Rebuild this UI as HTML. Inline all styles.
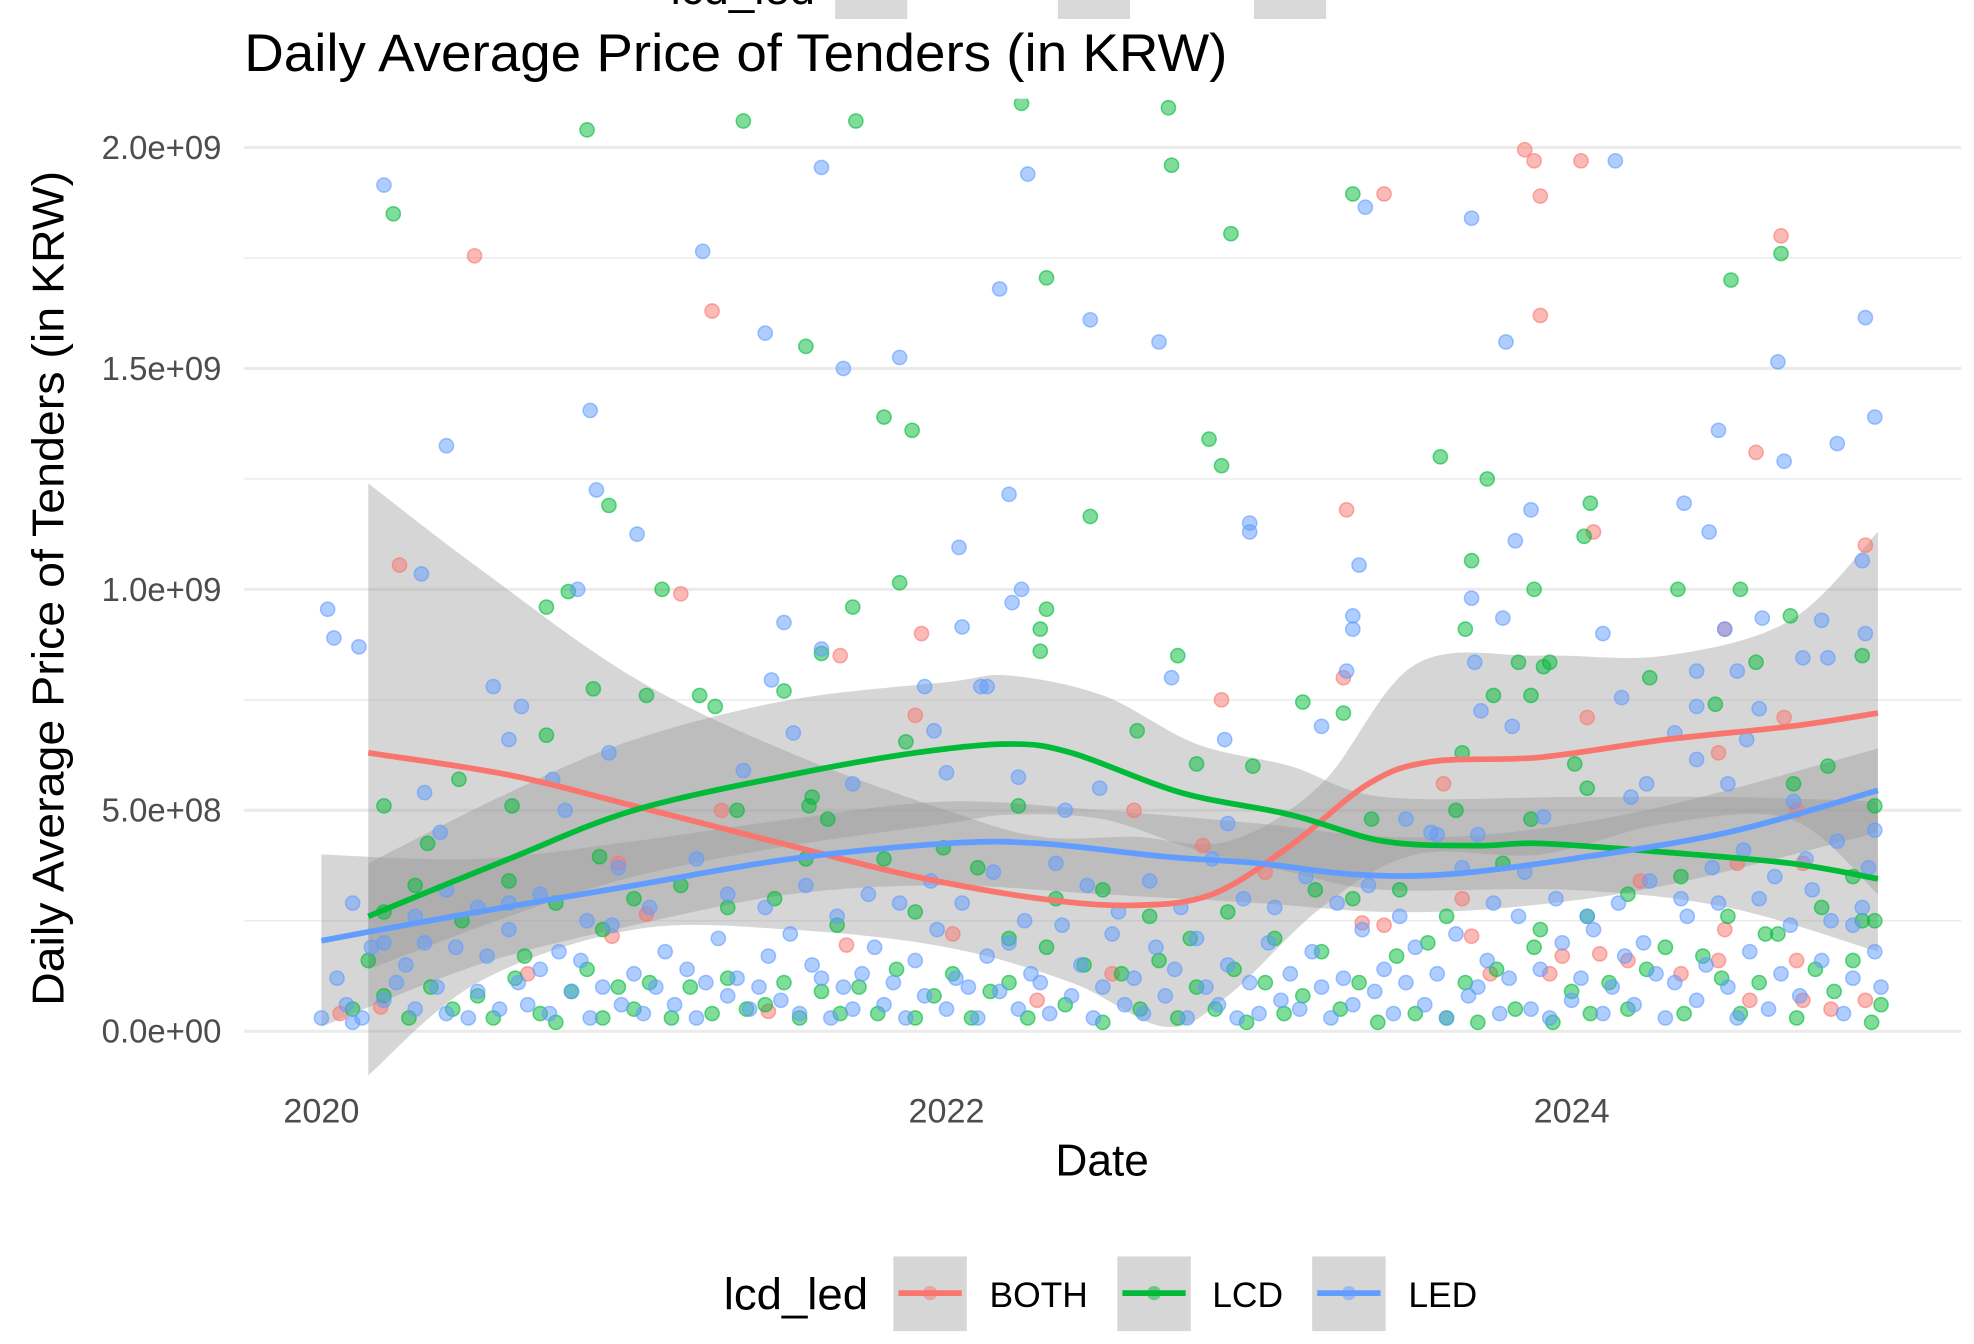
<!DOCTYPE html>
<html><head><meta charset="utf-8"><style>
html,body{margin:0;padding:0;background:#fff;}
svg{display:block;font-family:"Liberation Sans",Arial,sans-serif;}
</style></head><body>
<svg id="chart" width="1974" height="1344" viewBox="0 0 1560 1062.2" preserveAspectRatio="none" xmlns="http://www.w3.org/2000/svg">
<defs><clipPath id="panel"><rect x="193" y="78" width="1357" height="790"/></clipPath></defs>
<g>
<text x="530" y="3" font-size="36" fill="#000">lcd_led</text>
<rect x="660" y="0" width="57" height="15" fill="#d9d9d9"/>
<rect x="836" y="0" width="57" height="15" fill="#d9d9d9"/>
<rect x="991" y="0" width="57" height="15" fill="#d9d9d9"/>
</g>
<text x="193" y="56" font-size="42" fill="#000" textLength="777" lengthAdjust="spacingAndGlyphs">Daily Average Price of Tenders (in KRW)</text>
<g id="grid"></g>
<g id="ribbons" clip-path="url(#panel)"></g>
<g id="points" clip-path="url(#panel)"></g>
<g id="lines"></g>
<g id="axes"></g>
<text x="871" y="929" font-size="35" text-anchor="middle" fill="#000">Date</text>
<text transform="translate(50,465) rotate(-90)" font-size="35" text-anchor="middle" fill="#000" textLength="660" lengthAdjust="spacingAndGlyphs">Daily Average Price of Tenders (in KRW)</text>
<g id="legend">
<text x="572" y="1035" font-size="35" fill="#000" textLength="114" lengthAdjust="spacingAndGlyphs">lcd_led</text>
</g>
</svg>
<script>
const seriesNames=["BOTH","LCD","LED"];
const seriesColors=["#F8766D","#00BA38","#619CFF"];
const yTicks=[0,5,10,15,20];
const yTickLabels=["0.0e+00","5.0e+08","1.0e+09","1.5e+09","2.0e+09"];
const xTicks=[2020,2022,2024];
const xTickLabels=["2020","2022","2024"];
// values in units of 1e8 KRW
const bothPoints=[[2020.49,17.55],[2021.25,16.3],[2020.25,10.55],[2021.15,9.9],[2021.66,8.5],[2021.92,9.0],[2021.9,7.15],[2022.88,7.5],[2023.4,18.95],[2023.28,11.8],[2023.27,8.0],[2023.85,19.95],[2023.88,19.7],[2023.9,18.9],[2023.9,16.2],[2024.03,19.7],[2024.07,11.3],[2024.05,7.1],[2024.67,18.0],[2024.59,13.1],[2024.49,9.1],[2024.68,7.1],[2024.94,11.0],[2024.47,6.3],[2021.28,5.0],[2020.95,3.8],[2020.93,2.15],[2021.04,2.65],[2021.68,1.95],[2022.02,2.2],[2022.6,5.0],[2022.82,4.2],[2023.02,3.6],[2023.33,2.45],[2023.4,2.4],[2023.59,5.6],[2023.65,3.0],[2023.68,2.15],[2023.74,1.3],[2023.93,1.3],[2023.97,1.7],[2024.09,1.75],[2024.22,3.4],[2024.35,1.3],[2024.47,1.6],[2024.53,3.8],[2024.72,5.0],[2024.74,3.8],[2024.57,0.7],[2024.74,0.7],[2024.83,0.5],[2024.72,1.6],[2024.49,2.3],[2024.18,1.6],[2020.06,0.4],[2020.19,0.55],[2020.66,1.3],[2021.43,0.45],[2022.29,0.7],[2022.53,1.3],[2024.94,0.7]];
const lcdPoints=[[2020.85,20.4],[2021.35,20.6],[2021.71,20.6],[2022.24,21.0],[2022.71,20.9],[2022.72,19.6],[2020.23,18.5],[2022.91,18.05],[2022.32,17.05],[2021.55,15.5],[2023.3,18.95],[2024.51,17.0],[2024.67,17.6],[2021.8,13.9],[2021.89,13.6],[2022.84,13.4],[2022.88,12.8],[2023.58,13.0],[2023.73,12.5],[2024.06,11.95],[2024.04,11.2],[2022.46,11.65],[2020.92,11.9],[2021.09,10.0],[2021.85,10.15],[2023.68,10.65],[2023.88,10.0],[2024.34,10.0],[2024.54,10.0],[2020.79,9.95],[2020.72,9.6],[2021.7,9.6],[2022.32,9.55],[2022.3,9.1],[2022.3,8.6],[2023.66,9.1],[2023.83,8.35],[2023.91,8.25],[2023.93,8.35],[2024.7,9.4],[2024.93,8.5],[2022.74,8.5],[2021.04,7.6],[2021.21,7.6],[2021.26,7.35],[2021.48,7.7],[2021.6,8.55],[2020.87,7.75],[2023.14,7.45],[2023.27,7.2],[2023.75,7.6],[2023.87,7.6],[2024.59,8.35],[2024.46,7.4],[2024.25,8.0],[2020.72,6.7],[2021.87,6.55],[2022.61,6.8],[2022.8,6.05],[2022.98,6.0],[2024.01,6.05],[2024.05,5.5],[2023.65,6.3],[2020.2,5.1],[2020.44,5.7],[2020.61,5.1],[2021.57,5.3],[2021.56,5.1],[2023.36,4.8],[2023.63,5.0],[2023.87,4.8],[2024.71,5.6],[2024.82,6.0],[2024.97,5.1],[2020.34,4.25],[2020.89,3.95],[2021.33,5.0],[2021.62,4.8],[2021.99,4.15],[2022.23,5.1],
[2020.1,0.5],[2020.15,1.6],[2020.2,0.8],[2020.28,0.3],[2020.35,1.0],[2020.42,0.5],[2020.5,0.8],[2020.55,0.3],[2020.62,1.2],[2020.65,1.7],[2020.7,0.4],[2020.75,0.2],[2020.8,0.9],[2020.85,1.4],[2020.9,0.3],[2020.95,1.0],[2021.0,0.5],[2021.05,1.1],[2021.12,0.3],[2021.18,1.0],[2021.25,0.4],[2021.3,1.2],[2021.36,0.5],[2021.42,0.6],[2021.48,1.1],[2021.53,0.3],[2021.6,0.9],[2021.66,0.4],[2021.72,1.0],[2021.78,0.4],[2021.84,1.4],[2021.9,0.3],[2021.96,0.8],[2022.02,1.3],[2022.08,0.3],[2022.14,0.9],[2022.2,1.1],[2022.26,0.3],[2022.32,1.9],[2022.38,0.6],[2022.44,1.5],[2022.5,0.2],[2022.56,1.3],[2022.62,0.5],[2022.68,1.6],[2022.74,0.3],[2022.8,1.0],[2022.86,0.5],[2022.92,1.4],[2022.96,0.2],[2023.02,1.1],[2023.08,0.4],[2023.14,0.8],[2023.2,1.8],[2023.26,0.5],[2023.32,1.1],[2023.38,0.2],[2023.44,1.7],[2023.5,0.4],[2023.54,2.0],[2023.6,0.3],[2023.66,1.1],[2023.7,0.2],[2023.76,1.4],[2023.82,0.5],[2023.88,1.9],[2023.94,0.2],[2024.0,0.9],[2024.06,0.4],[2024.12,1.1],[2024.18,0.5],[2024.24,1.4],[2024.3,1.9],[2024.36,0.4],[2024.42,1.7],[2024.48,1.2],[2024.54,0.4],[2024.6,1.1],[2024.66,2.2],[2024.72,0.3],[2024.78,1.4],[2024.84,0.9],[2024.9,1.6],[2024.96,0.2],[2024.99,0.6],[2024.93,2.5],
[2020.2,2.7],[2020.3,3.3],[2020.45,2.5],[2020.6,3.4],[2020.75,2.9],[2020.9,2.3],[2021.0,3.0],[2021.15,3.3],[2021.3,2.8],[2021.45,3.0],[2021.55,3.9],[2021.65,2.4],[2021.8,3.9],[2021.9,2.7],[2022.1,3.7],[2022.2,2.1],[2022.35,3.0],[2022.5,3.2],[2022.65,2.6],[2022.78,2.1],[2022.9,2.7],[2023.05,2.1],[2023.18,3.2],[2023.3,3.0],[2023.45,3.2],[2023.6,2.6],[2023.78,3.8],[2023.9,2.3],[2024.05,2.6],[2024.18,3.1],[2024.35,3.5],[2024.5,2.6],[2024.62,2.2],[2024.8,2.8],[2024.9,3.5],[2024.97,2.5]];
const ledPoints=[[2020.02,9.55],[2020.04,8.9],[2020.12,8.7],[2020.2,19.15],[2021.6,19.55],[2022.26,19.4],[2023.34,18.65],[2023.68,18.4],[2024.14,19.7],[2021.22,17.65],[2022.17,16.8],[2022.46,16.1],[2022.68,15.6],[2021.42,15.8],[2021.67,15.0],[2021.85,15.25],[2023.79,15.6],[2024.66,15.15],[2024.94,16.15],[2020.4,13.25],[2020.86,14.05],[2020.88,12.25],[2021.01,11.25],[2024.47,13.6],[2024.68,12.9],[2024.97,13.9],[2024.85,13.3],[2022.2,12.15],[2023.87,11.8],[2024.36,11.95],[2024.44,11.3],[2022.97,11.5],[2022.97,11.3],[2023.82,11.1],[2022.04,10.95],[2020.32,10.35],[2023.32,10.55],[2023.68,9.8],[2024.1,9.0],[2020.82,10.0],[2022.24,10.0],[2022.21,9.7],[2021.48,9.25],[2022.05,9.15],[2023.3,9.4],[2023.3,9.1],[2023.78,9.35],[2024.61,9.35],[2024.8,9.3],[2024.93,10.65],[2024.94,9.0],[2024.82,8.45],[2024.74,8.45],[2024.49,9.1],[2021.6,8.65],[2023.28,8.15],[2022.11,7.8],[2022.13,7.8],[2021.93,7.8],[2022.72,8.0],[2023.69,8.35],[2024.4,8.15],[2024.53,8.15],[2024.4,7.35],[2024.16,7.55],[2021.44,7.95],[2020.55,7.8],[2020.64,7.35],[2021.51,6.75],[2020.6,6.6],[2021.96,6.8],[2022.23,5.75],[2022.89,6.6],[2023.2,6.9],[2023.81,6.9],[2023.71,7.25],[2024.56,6.6],[2024.6,7.3],[2024.33,6.75],[2020.92,6.3],[2021.35,5.9],[2021.7,5.6],[2022.0,5.85],[2022.38,5.0],[2022.49,5.5],[2022.9,4.7],[2023.47,4.8],[2023.57,4.45],[2023.7,4.45],[2023.91,4.85],[2024.19,5.3],[2024.24,5.6],[2024.4,6.15],[2024.5,5.6],[2024.71,5.2],[2024.97,4.55],[2020.33,5.4],[2020.78,5.0],[2020.38,4.5],[2020.74,5.7],
[2020.0,0.3],[2020.05,1.2],[2020.08,0.6],[2020.1,0.2],[2020.13,0.3],[2020.16,1.9],[2020.2,0.7],[2020.24,1.1],[2020.27,1.5],[2020.3,0.5],[2020.33,2.0],[2020.37,1.0],[2020.4,0.4],[2020.43,1.9],[2020.47,0.3],[2020.5,0.9],[2020.53,1.7],[2020.57,0.5],[2020.6,2.3],[2020.63,1.1],[2020.66,0.6],[2020.7,1.4],[2020.73,0.4],[2020.76,1.8],[2020.8,0.9],[2020.83,1.6],[2020.86,0.3],[2020.9,1.0],[2020.93,2.4],[2020.96,0.6],[2021.0,1.3],[2021.03,0.4],[2021.07,1.0],[2021.1,1.8],[2021.13,0.6],[2021.17,1.4],[2021.2,0.3],[2021.23,1.1],[2021.27,2.1],[2021.3,0.8],[2021.33,1.2],[2021.37,0.5],[2021.4,1.0],[2021.43,1.7],[2021.47,0.7],[2021.5,2.2],[2021.53,0.4],[2021.57,1.5],[2021.6,1.2],[2021.63,0.3],[2021.67,1.0],[2021.7,0.5],[2021.73,1.3],[2021.77,1.9],[2021.8,0.6],[2021.83,1.1],[2021.87,0.3],[2021.9,1.6],[2021.93,0.8],[2021.97,2.3],[2022.0,0.5],[2022.03,1.2],[2022.07,1.0],[2022.1,0.3],[2022.13,1.7],[2022.17,0.9],[2022.2,2.0],[2022.23,0.5],[2022.27,1.3],[2022.3,1.1],[2022.33,0.4],[2022.37,2.4],[2022.4,0.8],[2022.43,1.5],[2022.47,0.3],[2022.5,1.0],[2022.53,2.2],[2022.57,0.6],[2022.6,1.2],[2022.63,0.4],[2022.67,1.9],[2022.7,0.8],[2022.73,1.4],[2022.77,0.3],[2022.8,2.1],[2022.83,1.0],[2022.87,0.6],[2022.9,1.5],[2022.93,0.3],[2022.97,1.1],[2023.0,0.4],[2023.03,2.0],[2023.07,0.7],[2023.1,1.3],[2023.13,0.5],[2023.17,1.8],[2023.2,1.0],[2023.23,0.3],[2023.27,1.2],[2023.3,0.6],[2023.33,2.3],[2023.37,0.9],[2023.4,1.4],[2023.43,0.4],[2023.47,1.1],[2023.5,1.9],[2023.53,0.6],[2023.57,1.3],[2023.6,0.3],[2023.63,2.2],[2023.67,0.8],[2023.7,1.0],[2023.73,1.6],[2023.77,0.4],[2023.8,1.2],[2023.83,2.6],[2023.87,0.5],[2023.9,1.4],[2023.93,0.3],[2023.97,2.0],[2024.0,0.7],[2024.03,1.2],[2024.07,2.3],[2024.1,0.4],[2024.13,1.0],[2024.17,1.7],[2024.2,0.6],[2024.23,2.0],[2024.27,1.3],[2024.3,0.3],[2024.33,1.1],[2024.37,2.6],[2024.4,0.7],[2024.43,1.5],[2024.47,2.9],[2024.5,1.0],[2024.53,0.3],[2024.57,1.8],[2024.6,3.0],[2024.63,0.5],[2024.67,1.3],[2024.7,2.4],[2024.73,0.8],[2024.77,3.2],[2024.8,1.6],[2024.83,2.5],[2024.87,0.4],[2024.9,1.2],[2024.93,2.8],[2024.97,1.8],[2024.99,1.0],
[2020.1,2.9],[2020.2,2.0],[2020.3,2.6],[2020.4,3.2],[2020.5,2.8],[2020.6,2.9],[2020.7,3.1],[2020.85,2.5],[2020.95,3.7],[2021.05,2.8],[2021.2,3.9],[2021.3,3.1],[2021.42,2.8],[2021.55,3.3],[2021.65,2.6],[2021.75,3.1],[2021.85,2.9],[2021.95,3.4],[2022.05,2.9],[2022.15,3.6],[2022.25,2.5],[2022.35,3.8],[2022.45,3.3],[2022.55,2.7],[2022.65,3.4],[2022.75,2.8],[2022.85,3.9],[2022.95,3.0],[2023.05,2.8],[2023.15,3.5],[2023.25,2.9],[2023.35,3.3],[2023.45,2.6],[2023.55,4.5],[2023.65,3.7],[2023.75,2.9],[2023.85,3.6],[2023.95,3.0],[2024.05,2.6],[2024.15,2.9],[2024.25,3.4],[2024.35,3.0],[2024.45,3.7],[2024.55,4.1],[2024.65,3.5],[2024.75,3.9],[2024.85,4.3],[2024.95,3.7],[2024.9,2.4]];
const bothLine=[[2020.15,6.3],[2020.6,5.8],[2021,5.1],[2021.5,4.2],[2021.9,3.5],[2022.3,3.0],[2022.6,2.85],[2022.85,3.1],[2023.1,4.2],[2023.35,5.6],[2023.55,6.1],[2023.9,6.2],[2024.3,6.6],[2024.7,6.9],[2024.98,7.2]];
const lcdLine=[[2020.15,2.6],[2020.6,3.9],[2021,5.0],[2021.5,5.8],[2021.9,6.3],[2022.2,6.5],[2022.4,6.3],[2022.75,5.4],[2023.1,4.9],[2023.4,4.3],[2023.7,4.2],[2023.9,4.25],[2024.3,4.05],[2024.7,3.8],[2024.98,3.45]];
const ledLine=[[2020,2.05],[2020.5,2.7],[2021,3.3],[2021.5,3.9],[2022,4.25],[2022.3,4.25],[2022.7,3.95],[2023,3.8],[2023.3,3.55],[2023.6,3.55],[2024,3.9],[2024.5,4.5],[2024.98,5.45]];
const bothUpper=[[2020.15,12.4],[2020.5,10.5],[2021,8.0],[2021.5,6.3],[2022,5.0],[2022.3,4.4],[2022.6,4.4],[2022.9,4.3],[2023.2,5.6],[2023.5,8.3],[2023.9,8.5],[2024.3,8.5],[2024.7,9.3],[2024.98,11.3]];
const bothLower=[[2020.15,-1.0],[2020.5,1.1],[2021,2.3],[2021.5,2.3],[2022,1.9],[2022.4,1.1],[2022.7,0.1],[2022.9,0.8],[2023.2,2.8],[2023.5,4.0],[2023.9,4.0],[2024.3,4.7],[2024.7,4.8],[2024.98,3.1]];
const lcdUpper=[[2020.15,3.8],[2020.6,5.4],[2021,6.6],[2021.5,7.5],[2022,7.9],[2022.2,8.05],[2022.5,7.6],[2022.8,6.5],[2023.1,6.0],[2023.4,5.3],[2024,5.3],[2024.5,5.3],[2024.98,5.2]];
const lcdLower=[[2020.15,1.4],[2020.6,2.6],[2021,3.5],[2021.5,4.2],[2022,4.7],[2022.2,4.9],[2022.5,4.8],[2022.8,4.1],[2023.1,3.6],[2023.4,3.2],[2024,3.2],[2024.5,2.8],[2024.98,1.8]];
const ledUpper=[[2020,4.0],[2020.5,3.9],[2021,4.3],[2021.5,4.8],[2022,5.2],[2022.5,5.0],[2023,4.7],[2023.4,4.4],[2023.8,4.5],[2024.3,5.1],[2024.98,6.4]];
const ledLower=[[2020,0.1],[2020.5,1.5],[2021,2.4],[2021.5,3.1],[2022,3.3],[2022.5,3.1],[2023,2.9],[2023.4,2.7],[2023.8,2.8],[2024.3,3.3],[2024.98,4.5]];

const NS="http://www.w3.org/2000/svg";
function xs(yr){return 254+247*(yr-2020);}
function ys(v){return 815-34.92*v;}
function mk(tag,parent){const e=document.createElementNS(NS,tag);parent.appendChild(e);return e;}
function sm(pts){
  const p=pts.map(d=>[xs(d[0]),ys(d[1])]);
  let s="M"+p[0][0]+","+p[0][1];
  for(let i=0;i<p.length-1;i++){
    const p0=p[i-1]||p[i],p1=p[i],p2=p[i+1],p3=p[i+2]||p2;
    s+=" C"+(p1[0]+(p2[0]-p0[0])/6)+","+(p1[1]+(p2[1]-p0[1])/6)+" "+(p2[0]-(p3[0]-p1[0])/6)+","+(p2[1]-(p3[1]-p1[1])/6)+" "+p2[0]+","+p2[1];
  }
  return s;
}
const grid=document.getElementById('grid');
for(let v=0;v<=20;v+=2.5){
  const l=mk('line',grid);
  
  
  l.setAttribute('x1',193);l.setAttribute('x2',1550);l.setAttribute('y1',ys(v));l.setAttribute('y2',ys(v));
  l.setAttribute('stroke','#ebebeb');l.setAttribute('stroke-width',v%5===0?2.4:1.2);
}
const axes=document.getElementById('axes');
yTicks.forEach((v,i)=>{
  const t=mk('text',axes);
  
  
  t.setAttribute('x',175);t.setAttribute('y',ys(v)+9);t.setAttribute('text-anchor','end');
  t.setAttribute('font-size','26');t.setAttribute('fill','#4d4d4d');t.textContent=yTickLabels[i];
});
xTicks.forEach((v,i)=>{
  const t=mk('text',axes);
  
  
  t.setAttribute('x',xs(v));t.setAttribute('y',887);t.setAttribute('text-anchor','middle');
  t.setAttribute('font-size','27');t.setAttribute('fill','#4d4d4d');t.textContent=xTickLabels[i];
});
const rib=document.getElementById('ribbons');
[[bothUpper,bothLower],[lcdUpper,lcdLower],[ledUpper,ledLower]].forEach((b,i)=>{
  const p=mk('path',rib);
  
  
  const lo=b[1].slice().reverse();
  const d=sm(b[0])+" L"+sm(lo).slice(1)+" Z";
  p.setAttribute('d',d);p.setAttribute('fill','#999999');p.setAttribute('fill-opacity','0.4');
});
const pg=document.getElementById('points');
[bothPoints,lcdPoints,ledPoints].forEach((arr,i)=>{
  arr.forEach(d=>{
    const c=mk('circle',pg);
    
    
    c.setAttribute('cx',xs(d[0]));c.setAttribute('cy',ys(d[1]));c.setAttribute('r',5.6);
    c.setAttribute('fill',seriesColors[i]);c.setAttribute('fill-opacity','0.5');
    c.setAttribute('stroke',seriesColors[i]);c.setAttribute('stroke-opacity','0.6');c.setAttribute('stroke-width','1.2');
  });
});
const lg=document.getElementById('lines');
[bothLine,lcdLine,ledLine].forEach((arr,i)=>{
  const p=mk('path',lg);
  
  
  p.setAttribute('d',sm(arr));p.setAttribute('fill','none');p.setAttribute('stroke',seriesColors[i]);p.setAttribute('stroke-width','4.5');
});
const leg=document.getElementById('legend');
const keyX=[706,883,1037],labX=[782,958,1113];
seriesNames.forEach((n,i)=>{
  const g=mk('g',leg);
  
  
  const r=mk('rect',g);r.setAttribute('x',keyX[i]);r.setAttribute('y',993);r.setAttribute('width',58);r.setAttribute('height',59);r.setAttribute('fill','#d6d6d6');
  const l=mk('line',g);l.setAttribute('x1',keyX[i]+4);l.setAttribute('x2',keyX[i]+54);l.setAttribute('y1',1022);l.setAttribute('y2',1022);l.setAttribute('stroke',seriesColors[i]);l.setAttribute('stroke-width',4.5);
  const c=mk('circle',g);c.setAttribute('cx',keyX[i]+29);c.setAttribute('cy',1022);c.setAttribute('r',5.6);c.setAttribute('fill',seriesColors[i]);c.setAttribute('fill-opacity','0.5');
  const t=mk('text',g);t.setAttribute('x',labX[i]);t.setAttribute('y',1033);t.setAttribute('font-size','28');t.setAttribute('fill','#000');t.textContent=n;
});
</script>
</body></html>
